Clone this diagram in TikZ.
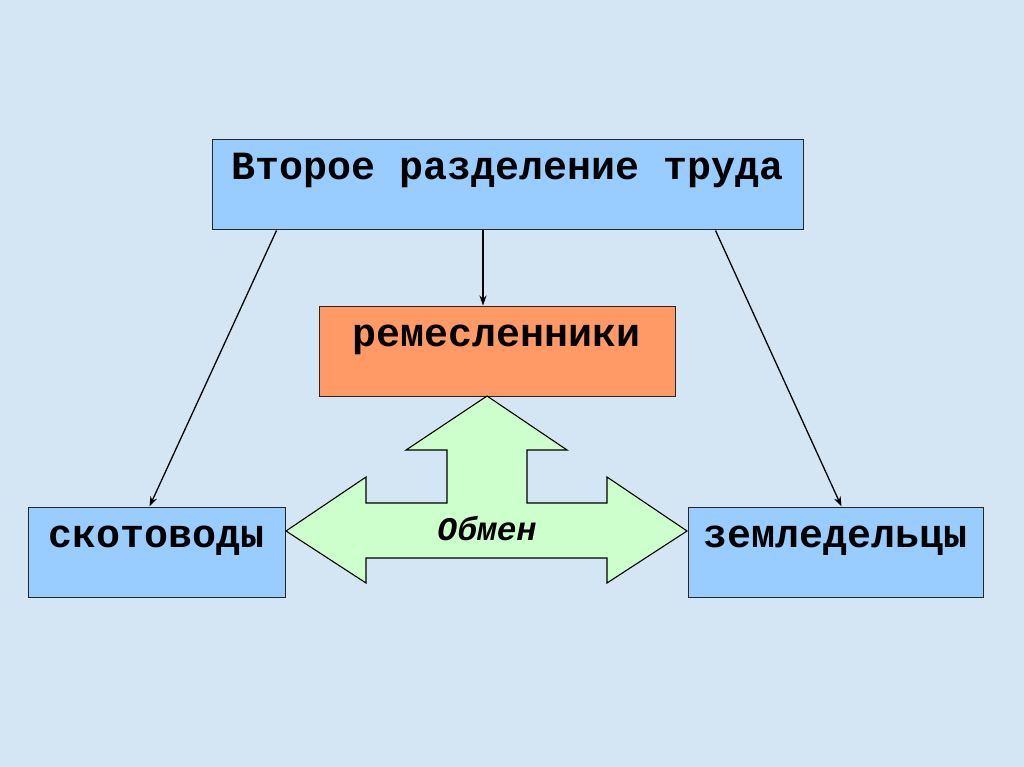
\documentclass[tikz,border=0pt]{standalone}
\usepackage{fontspec}
\newfontfamily\courfont{Liberation Mono}
\usetikzlibrary{arrows.meta}
\definecolor{bgblue}{RGB}{212,229,243}
\definecolor{boxblue}{RGB}{153,204,255}
\definecolor{boxorange}{RGB}{255,153,102}
\definecolor{arrgreen}{RGB}{204,255,204}

\begin{document}
\begin{tikzpicture}[x=1pt, y=-1pt,
    box/.style={draw=black!85, line width=1pt, fill=#1, inner xsep=0pt, inner ysep=0pt,
      minimum height=90pt, text height=40pt, text depth=50pt,
      font=\courfont\bfseries\fontsize{40}{48}\selectfont},
    box/.default=boxblue,
    arr/.style={-{Stealth[length=10pt, width=7pt]}, line width=1.3pt}]
    \fill[bgblue] (0,0) rectangle (1024,767);
    \useasboundingbox (0,0) rectangle (1024,767);
    \node[box, minimum width=591pt] (top) at (507.5,185) {Второе разделение труда};
    \node[box=boxorange, minimum width=356pt] (craft) at (497,351) {ремесленники};
    \node[box, minimum width=257pt] (herd) at (156.5,552) {скотоводы};
    \node[box, minimum width=295pt] (farm) at (835.5,552) {земледельцы};
    % three-way exchange arrow
    \draw[fill=arrgreen, line width=1.1pt, line join=miter] (487,396) -- (567,450) -- (527,450) -- (527,503)
      -- (607,503) -- (607,477) -- (687,531) -- (607,583) -- (607,558) -- (366,558)
      -- (366,583) -- (286,531) -- (366,477) -- (366,503) -- (447,503) -- (447,450)
      -- (406,450) -- cycle;
    \node[anchor=base, inner sep=0pt, font=\courfont\bfseries\itshape\fontsize{33}{40}\selectfont] (swap) at (487,540) {Обмен};
    \draw[arr] ([xshift=65pt]top.south west) -- ([xshift=122pt]herd.north west);
    \draw[arr] ([xshift=-24.5pt]top.south) -- ([xshift=-14pt]craft.north);
    \draw[arr] ([xshift=-88pt]top.south east) -- ([xshift=154pt]farm.north west);
\end{tikzpicture}
\end{document}
